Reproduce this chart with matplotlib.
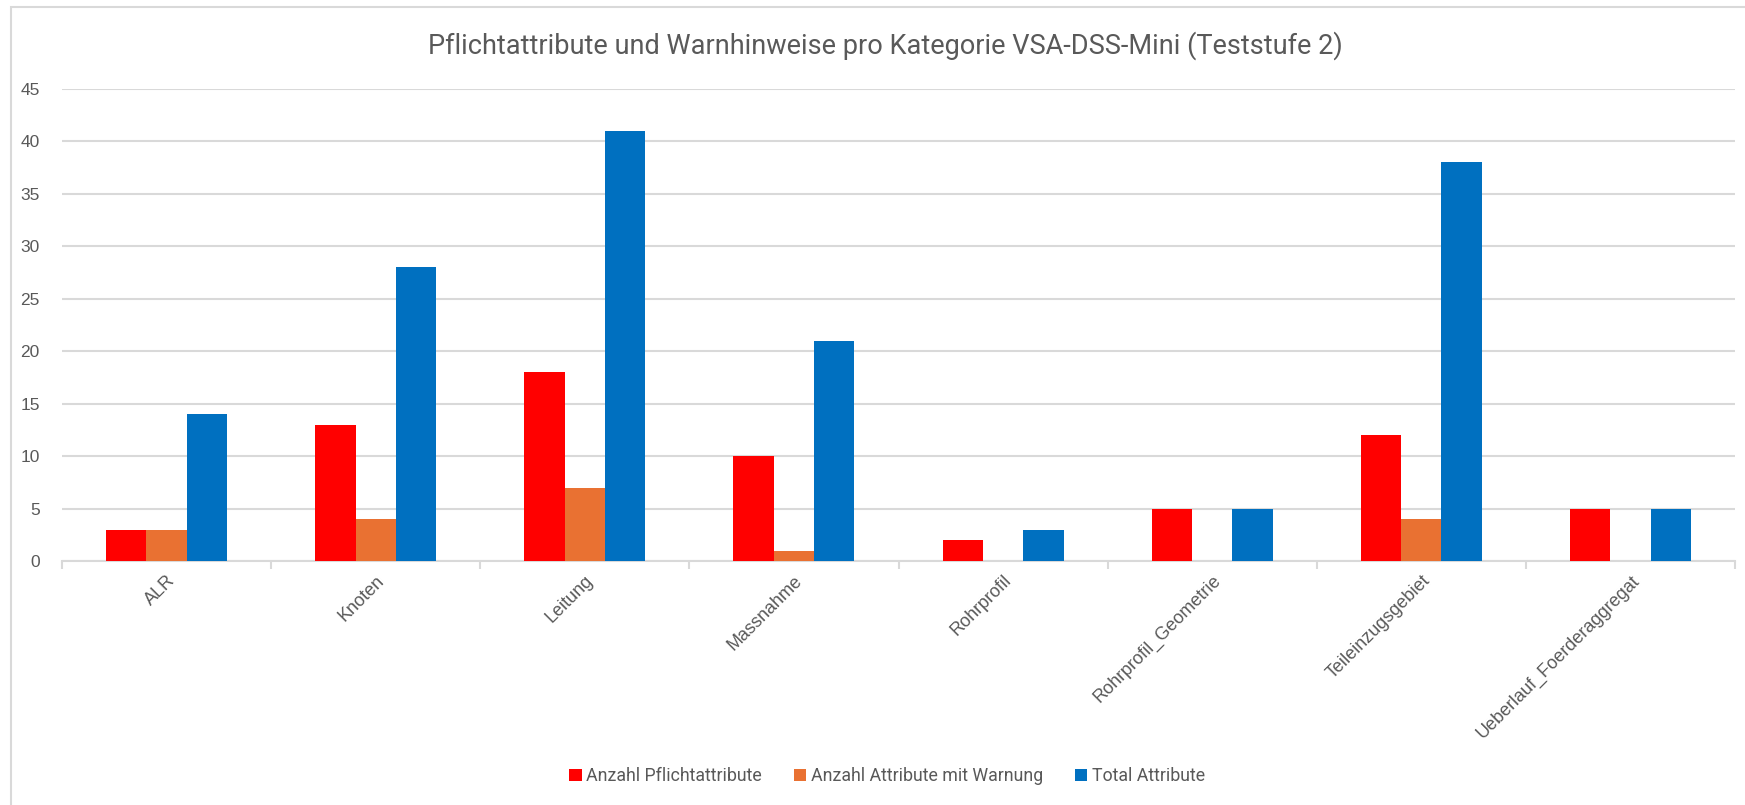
import numpy as np
import matplotlib.pyplot as plt
from matplotlib.patches import Rectangle

# Daten aus dem Diagramm
kategorien = ['ALR', 'Knoten', 'Leitung', 'Massnahme', 'Rohrprofil',
              'Rohrprofil_Geometrie', 'Teileinzugsgebiet', 'Ueberlauf_Foerderaggregat']
pflichtattribute = [3, 13, 18, 10, 2, 5, 12, 5]
attribute_warnung = [3, 4, 7, 1, 0, 0, 4, 0]
total_attribute = [14, 28, 41, 21, 3, 5, 38, 5]

serien = ['Anzahl Pflichtattribute', 'Anzahl Attribute mit Warnung', 'Total Attribute']
farben = ['#FF0000', '#E97132', '#0070C0']

grau_text = '#595959'
grau_linie = '#D9D9D9'
narrow = ['Roboto', 'DejaVu Sans']

fig = plt.figure(figsize=(17.45, 8.05), dpi=100)
ax = fig.add_axes([0.0355, 0.3031, 0.9588, 0.5863])

# chart border (Excel style)
fig.patches.append(Rectangle((11 / 1745, -0.1), 1.2, 1.1 - 7 / 805, transform=fig.transFigure,
                             fill=False, edgecolor=grau_linie, linewidth=1.5))

x = np.arange(len(kategorien))
bw = 1 / (3 + 2.19)
for i, (werte, farbe) in enumerate(zip([pflichtattribute, attribute_warnung, total_attribute], farben)):
    ax.bar(x + (i - 1) * bw, werte, bw, color=farbe, label=serien[i], zorder=3)

ax.set_xlim(-0.5, len(kategorien) - 0.5)
ax.set_ylim(0, 45)
ax.set_yticks(range(0, 50, 5))
ax.yaxis.grid(True, color=grau_linie, linewidth=1.5, zorder=0)
ax.tick_params(axis='y', length=0, labelsize=12.5, labelcolor=grau_text, pad=16)
for lbl in ax.get_yticklabels():
    lbl.set_family('Liberation Sans')

for s in ['top', 'right', 'left']:
    ax.spines[s].set_visible(False)
ax.spines['bottom'].set_color(grau_linie)
ax.spines['bottom'].set_linewidth(1.5)

ax.set_xticks(x)
ax.set_xticklabels(kategorien, rotation=45, ha='right', rotation_mode='anchor',
                   fontsize=13, color=grau_text, family='Liberation Sans')
ax.tick_params(axis='x', which='major', length=0, pad=8)
ax.set_xticks(np.arange(-0.5, len(kategorien)), minor=True)
ax.tick_params(axis='x', which='minor', length=6, color=grau_linie, width=1.5)

fig.text(885 / 1745, 1 - 46 / 805, 'Pflichtattribute und Warnhinweise pro Kategorie VSA-DSS-Mini (Teststufe 2)',
         ha='center', va='center', fontsize=19.5, color=grau_text, family=narrow)

leg = fig.legend(loc='center', bbox_to_anchor=(887 / 1745, 1 - 776 / 805), ncol=3, frameon=False,
                 handlelength=0.7, handleheight=0.7, handletextpad=0.25, columnspacing=1.8,
                 prop={'family': narrow, 'size': 12.8})
for t in leg.get_texts():
    t.set_color(grau_text)

fig.savefig('out.png', dpi=100, facecolor='white')
